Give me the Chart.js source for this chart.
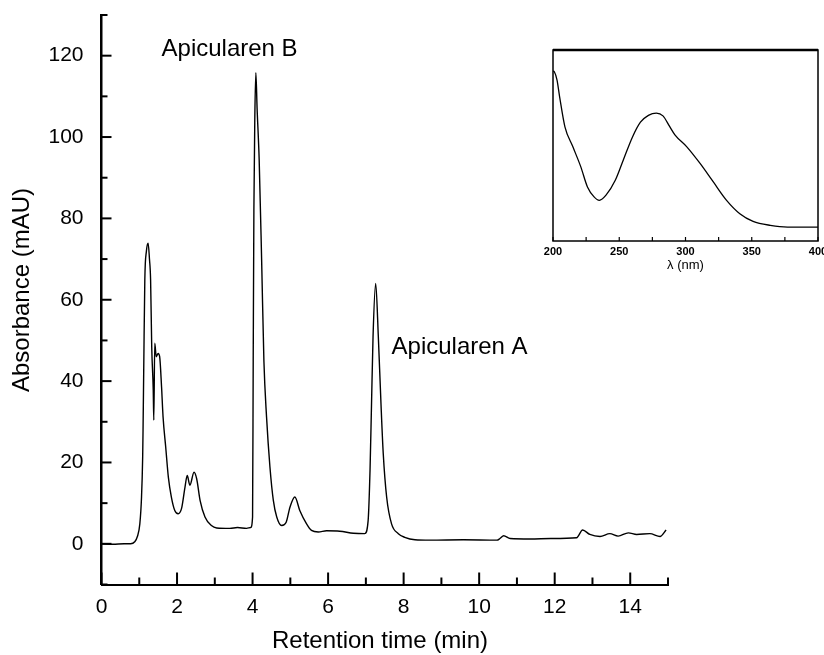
<!DOCTYPE html>
<html><head><meta charset="utf-8">
<script src="https://cdn.jsdelivr.net/npm/chart.js@4.4.1/dist/chart.umd.min.js"></script>
<style>
html,body{margin:0;padding:0;background:#fff;overflow:hidden}
#wrap{position:relative;width:824px;height:655px;background:#fff}
#main{position:absolute;left:0;top:0}
#inset{position:absolute;left:540px;top:38px}
</style></head><body>
<div id="wrap"><canvas id="main" width="824" height="655"></canvas><canvas id="inset" width="284" height="242"></canvas></div>
<script>
// ---- Main chromatogram ----
const retentionTime = [0.00,0.30,0.60,0.77,0.88,0.95,1.015,1.06,1.09,1.10,1.12,1.147,1.19,1.235,1.27,1.30,1.33,1.37,1.385,1.41,1.45,1.50,1.54,1.59,1.63,1.70,1.77,1.85,1.94,2.03,2.12,2.21,2.27,2.34,2.45,2.52,2.61,2.74,2.91,3.05,3.40,3.60,3.84,3.95,4.00,4.017,4.035,4.06,4.087,4.12,4.175,4.24,4.30,4.37,4.46,4.55,4.64,4.77,4.89,4.99,5.12,5.25,5.43,5.56,5.74,5.96,6.31,6.67,6.97,7.06,7.11,7.15,7.19,7.26,7.33,7.40,7.46,7.55,7.68,7.86,8.03,8.30,8.70,9.58,10.47,10.55,10.65,10.82,11.35,11.90,12.58,12.74,12.93,13.20,13.46,13.68,13.95,14.17,14.52,14.79,14.95];
const absorbance    = [0.0,-0.1,0.0,0.0,0.5,1.8,4.9,11.5,21.3,27.9,44.4,64.9,72,73.9,70,64.9,48.4,37.8,30.4,49.3,46,46.8,46,38.6,31.2,23.8,16.4,11.5,8.2,7.4,8.7,13.9,16.8,14.4,17.6,16.0,10.7,6.6,4.5,3.9,3.8,4.0,3.8,4.0,6.6,45,82,105,115.8,107,94.4,69.8,45,31.2,18.9,10.7,6.6,4.5,5.3,9,11.5,8.2,4.9,3.3,2.9,3.2,3.1,2.6,2.5,5.7,18,34.5,50.9,64,50.9,34.5,22.2,11.5,4.9,2.5,1.6,1.0,0.9,1.0,0.9,1.3,2.0,1.3,1.2,1.3,1.5,3.4,2.3,1.8,2.5,1.9,2.7,2.3,2.5,1.8,3.4];
const peakLabels    = ['Apicularen B', 'Apicularen A'];
const peakLabelTime = [1.59, 7.68];
const peakLabelAbs  = [120, 46.6];
const xTitle = 'Retention time (min)';
const yTitle = 'Absorbance (mAU)';

// ---- Inset UV spectrum ----
const wavelength   = [200,201,203,205,209,215,221,226,231,235,240,247,253,260,266,272,278,283,288,292,301,311,321,331,341,351,364,377,389,400];
const uvAbsorbance = [0.89,0.886,0.843,0.755,0.598,0.493,0.388,0.283,0.231,0.213,0.24,0.318,0.423,0.545,0.622,0.658,0.670,0.655,0.600,0.556,0.493,0.406,0.309,0.213,0.143,0.103,0.082,0.073,0.073,0.073];
const insetTitle = 'λ (nm)';

const FONT = '"Liberation Sans", Arial, Helvetica, sans-serif';
Chart.defaults.font.family = FONT;
Chart.defaults.color = '#000';

const mainDecor = {
  id: 'mainDecor',
  afterDraw(chart) {
    const {ctx, scales: {x, y}} = chart;
    ctx.save();
    ctx.strokeStyle = '#000';
    ctx.lineWidth = 2;
    y.ticks.forEach(t => {
      const py = y.getPixelForValue(t.value);
      const major = Math.round(t.value) % 20 === 0;
      ctx.beginPath(); ctx.moveTo(x.left, py); ctx.lineTo(x.left + (major ? 10 : 6), py); ctx.stroke();
    });
    x.ticks.forEach(t => {
      const px = x.getPixelForValue(t.value);
      const major = Math.round(t.value) % 2 === 0;
      ctx.beginPath(); ctx.moveTo(px, y.bottom); ctx.lineTo(px, y.bottom - (major ? 12 : 7)); ctx.stroke();
    });
    ctx.fillStyle = '#000';
    ctx.font = '24px ' + FONT;
    ctx.textAlign = 'left';
    ctx.textBaseline = 'alphabetic';
    peakLabels.forEach((s, i) => ctx.fillText(s, x.getPixelForValue(peakLabelTime[i]), y.getPixelForValue(peakLabelAbs[i])));
    // axis titles
    ctx.textAlign = 'center';
    ctx.textBaseline = 'middle';
    ctx.fillText(xTitle, 380, 641);
    ctx.translate(22, 290);
    ctx.rotate(-Math.PI / 2);
    ctx.fillText(yTitle, 0, 0);
    ctx.restore();
  }
};

new Chart(document.getElementById('main'), {
  type: 'line',
  data: {
    datasets: [{
      data: retentionTime.map((t, i) => ({x: t, y: absorbance[i]})),
      borderColor: '#000', borderWidth: 1.4, pointRadius: 0, cubicInterpolationMode: 'monotone', fill: false
    }]
  },
  options: {
    responsive: false, animation: false,
    layout: {padding: {left: 0, right: 156, top: 15, bottom: 0}},
    plugins: {legend: {display: false}, tooltip: {enabled: false}},
    scales: {
      x: {
        type: 'linear', position: 'bottom', min: 0, max: 15,
        grid: {display: true, drawOnChartArea: false, drawTicks: false},
        border: {display: true, color: '#000', width: 2},
        ticks: {stepSize: 1, autoSkip: false, maxRotation: 0, padding: 10, font: {size: 21},
          callback: v => (Math.round(v) % 2 === 0 ? String(v) : '')},
        title: {display: false},
        afterFit: s => { s.height = 70.5; s.paddingLeft = 0; s.paddingRight = 0; }
      },
      y: {
        type: 'linear', min: -10, max: 130,
        grid: {display: true, drawOnChartArea: false, drawTicks: false},
        border: {display: true, color: '#000', width: 2.5},
        ticks: {stepSize: 10, autoSkip: false, padding: 18, font: {size: 21},
          callback: v => (v >= 0 && v <= 120 && Math.round(v) % 20 === 0 ? String(v) : '')},
        title: {display: false},
        afterFit: s => { s.width = 101.5; s.paddingTop = 0; s.paddingBottom = 0; }
      }
    }
  },
  plugins: [mainDecor]
});

const insetDecor = {
  id: 'insetDecor',
  afterDraw(chart) {
    const {ctx, chartArea: a, scales: {x}} = chart;
    ctx.save();
    ctx.strokeStyle = '#000';
    ctx.lineWidth = 1.5;
    ctx.strokeRect(a.left, a.top, a.right - a.left, a.bottom - a.top);
    ctx.lineWidth = 2.5;
    ctx.beginPath(); ctx.moveTo(a.left, a.top); ctx.lineTo(a.right, a.top); ctx.stroke();
    ctx.lineWidth = 1.2;
    x.ticks.forEach(t => {
      const px = x.getPixelForValue(t.value);
      ctx.beginPath(); ctx.moveTo(px, a.bottom); ctx.lineTo(px, a.bottom - 4); ctx.stroke();
    });
    ctx.restore();
  }
};

new Chart(document.getElementById('inset'), {
  type: 'line',
  data: {
    datasets: [{
      data: wavelength.map((w, i) => ({x: w, y: uvAbsorbance[i]})),
      borderColor: '#000', borderWidth: 1.3, pointRadius: 0, cubicInterpolationMode: 'monotone', fill: false
    }]
  },
  options: {
    responsive: false, animation: false,
    layout: {padding: {left: 13, right: 6, top: 12, bottom: 0}},
    plugins: {legend: {display: false}, tooltip: {enabled: false}},
    scales: {
      x: {
        type: 'linear', min: 200, max: 400,
        grid: {display: false, drawTicks: false},
        border: {display: false},
        ticks: {stepSize: 25, autoSkip: false, maxRotation: 0, padding: 4, font: {size: 11, weight: 'bold'},
          callback: v => (Math.round(v) % 50 === 0 ? String(v) : '')},
        title: {display: true, text: insetTitle, font: {size: 13}, padding: {top: 0, bottom: 7}},
        afterFit: s => { s.height = 39; s.paddingLeft = 0; s.paddingRight = 0; }
      },
      y: {display: false, min: 0, max: 1}
    }
  },
  plugins: [insetDecor]
});
</script>
</body></html>
